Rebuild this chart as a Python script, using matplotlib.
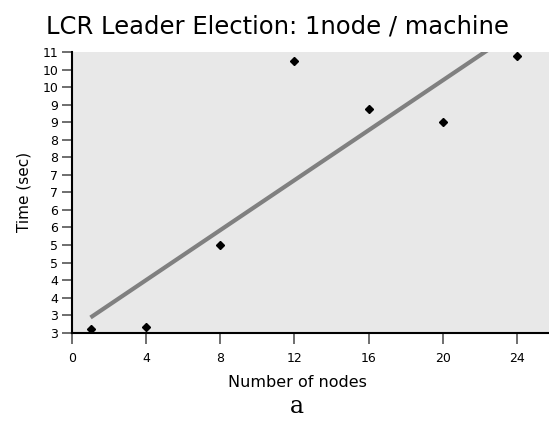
import numpy as np
import matplotlib
matplotlib.use('Agg')
import matplotlib.pyplot as plt

# data
nodes = [1, 4, 8, 12, 16, 20, 24]
times = [2.91, 2.97, 5.29, 10.55, 9.18, 8.80, 10.68]

xticks = [0, 4, 8, 12, 16, 20, 24]
yticks = [2.8, 3.3, 3.8, 4.3, 4.8, 5.3, 5.8, 6.3, 6.8, 7.3, 7.8, 8.3, 8.8, 9.3, 9.8, 10.3, 10.8]
ylabels = ['3', '3', '4', '4', '5', '5', '6', '6', '7', '7', '8', '8', '9', '9', '10', '10', '11']

fig = plt.figure(figsize=(5.49, 4.28), dpi=100)
ax = fig.add_axes([0.1311, 0.2227, 0.8689, 0.6558])
ax.set_facecolor('#e8e8e8')

# trend line (least squares fit)
k, b = np.polyfit(nodes, times, 1)
xl = np.array([nodes[0], nodes[-1]])
ax.plot(xl, k * xl + b, color='#808080', lw=3, solid_capstyle='butt', zorder=2)

ax.plot(nodes, times, 'D', color='black', markersize=4.5, zorder=3)

ax.set_xlim(0, 25.73)
ax.set_ylim(2.8, 10.8)
ax.set_xticks(xticks)
ax.set_yticks(yticks)
ax.set_yticklabels(ylabels)

for s in ['top', 'right']:
    ax.spines[s].set_visible(False)
for s in ['left', 'bottom']:
    ax.spines[s].set_linewidth(1.5)
    ax.spines[s].set_color('black')

ax.tick_params(axis='y', length=7, width=1.2, color='#555555', labelsize=9, pad=3)
ax.tick_params(axis='x', length=8, width=1.2, color='#555555', labelsize=9, pad=6)

ax.set_xlabel('Number of nodes', fontsize=11.5)
ax.xaxis.set_label_coords(0.473, -0.152)
ax.set_ylabel('Time (sec)', fontsize=11, labelpad=8)
fig.text(0.505, 0.965, 'LCR Leader Election: 1node / machine', fontsize=17.5,
         ha='center', va='top')
fig.text(0.54, 0.035, 'a', fontsize=17, family='DejaVu Serif', ha='center', va='baseline')

plt.savefig('out.png', dpi=100)
